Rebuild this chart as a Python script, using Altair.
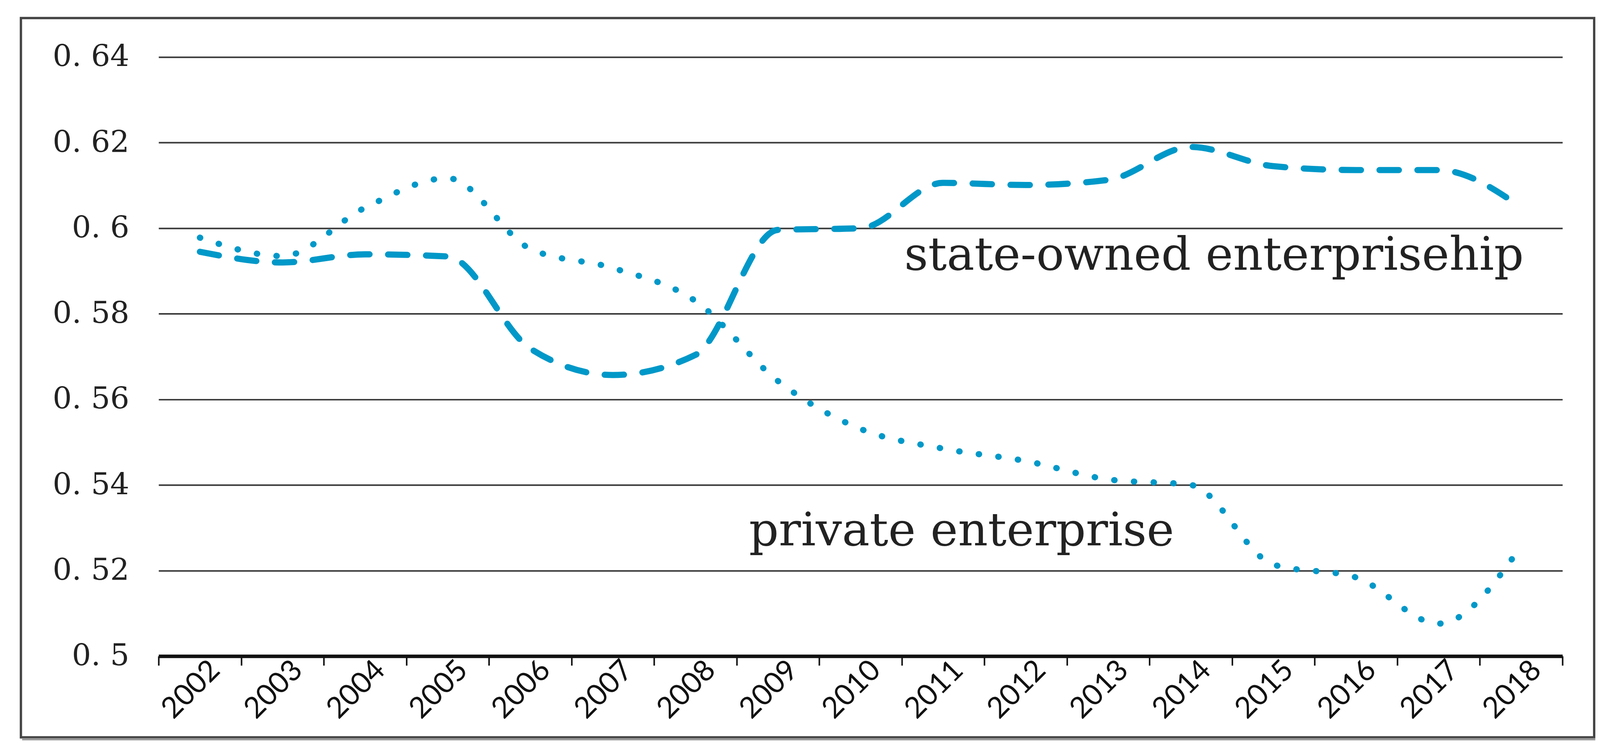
import altair as alt
import pandas as pd

years = list(range(2002, 2019))
state_owned = [0.5945, 0.5920, 0.5939, 0.5934, 0.5719, 0.5657, 0.5704, 0.5996, 0.6000,
               0.6106, 0.6101, 0.6113, 0.6190, 0.6145, 0.6136, 0.6136, 0.6049]
private = [0.5978, 0.5935, 0.6048, 0.6117, 0.5952, 0.5907, 0.5830, 0.5643, 0.5531,
           0.5485, 0.5456, 0.5413, 0.5400, 0.5214, 0.5184, 0.5076, 0.5257]
y_ticks = [0.5, 0.52, 0.54, 0.56, 0.58, 0.6, 0.62, 0.64]
x_bounds = [2001.5 + i for i in range(18)]
label_names = ["state-owned enterprisehip", "private enterprise"]
label_x = [2010.53, 2008.65]
label_y = [0.5903, 0.5259]

df = pd.DataFrame({"year": years, "state": state_owned, "private": private})
ann = pd.DataFrame({"text": label_names, "x": label_x, "y": label_y})
frame_df = pd.DataFrame({"a": [0]})

W, H = 3630, 1550
COLOR = "#0098c8"

xscale = alt.Scale(domain=[2001.5, 2018.5], nice=False, zero=False)
yscale = alt.Scale(domain=[0.5, 0.64], nice=False, zero=False)

xaxis = alt.Axis(
    values=x_bounds,
    labelExpr="datum.value > 2018 ? '' : toString(datum.value + 0.5)",
    labelAngle=-45, labelAlign="right", labelBaseline="middle",
    labelOffset=146, labelPadding=0, labelLimit=1000,
    labelFont="Lato", labelFontSize=76, labelColor="#111",
    tickSize=24, tickWidth=4, tickColor="#111",
    domainColor="#111", domainWidth=9,
    grid=False, title=None,
)
yaxis = alt.Axis(
    values=y_ticks,
    labelExpr="replace(toString(datum.value), '.', '. ')",
    labelFont="DejaVu Serif", labelFontSize=78, labelColor="#222",
    labelPadding=76, labelLimit=1000, ticks=False, domain=False,
    grid=True, gridColor="#3a3a3a", gridWidth=4,
    title=None,
)

state_line = alt.Chart(df).mark_line(
    color=COLOR, strokeWidth=16, strokeDash=[50, 48], strokeCap="round",
    interpolate="monotone",
).encode(
    x=alt.X("year:Q", scale=xscale, axis=xaxis),
    y=alt.Y("state:Q", scale=yscale, axis=yaxis),
)

private_line = alt.Chart(df).mark_line(
    color=COLOR, strokeWidth=16, strokeDash=[1, 50], strokeCap="round",
    interpolate="monotone",
).encode(
    x=alt.X("year:Q", scale=xscale),
    y=alt.Y("private:Q", scale=yscale),
)

labels = alt.Chart(ann).mark_text(
    align="left", baseline="alphabetic", font="DejaVu Serif",
    fontSize=120, color="#222",
).encode(
    x=alt.X("x:Q", scale=xscale),
    y=alt.Y("y:Q", scale=yscale),
    text="text:N",
)

frame = alt.Chart(frame_df).mark_rect(
    filled=False, stroke="#444", strokeWidth=6,
).encode(
    x=alt.value(-356), x2=alt.value(3712), y=alt.value(-101), y2=alt.value(1760),
)
shadow = alt.Chart(frame_df).mark_rule(
    stroke="#999", strokeWidth=6,
).encode(
    x=alt.value(-353), x2=alt.value(3715), y=alt.value(1765),
)

chart = alt.layer(state_line, private_line, labels, frame, shadow).properties(
    width=W, height=H,
    autosize=alt.AutoSizeParams(type="none"),
    padding={"left": 402, "top": 130, "right": 89, "bottom": 225},
    background="white",
).configure_view(stroke=None)

chart.save("out.html", embed_options={"renderer": "svg", "actions": False})
